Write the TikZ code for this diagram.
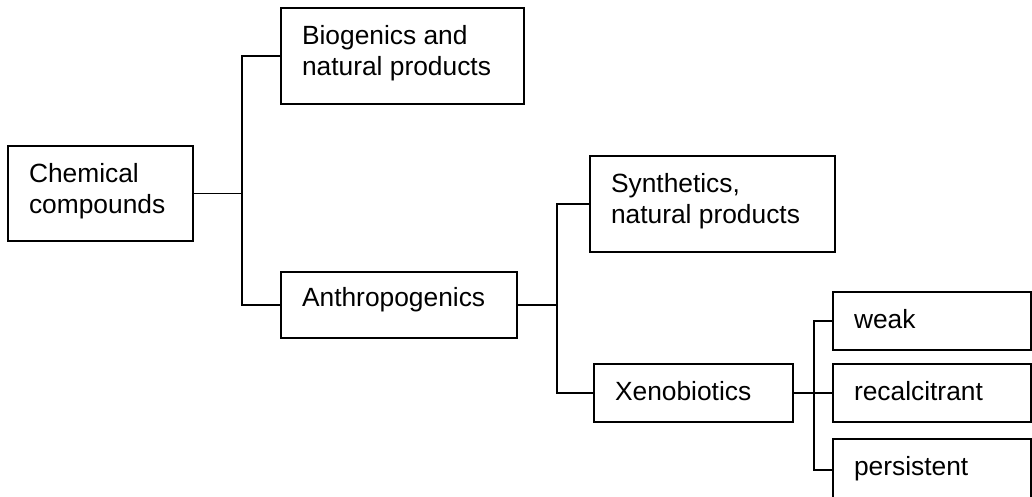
\documentclass[tikz,border=0pt]{standalone}
\usepackage{fontspec}
\setmainfont{Liberation Sans}
\usepackage{tikz}

\begin{document}
\begin{tikzpicture}[x=0.02cm,y=-0.02cm,line width=0.8pt,
  box/.style={draw,rectangle,inner sep=0pt},
  txt/.style={anchor=north west,align=left,inner sep=0pt,xshift=0.42cm,yshift=-0.34cm,font=\fontsize{15}{17.9}\selectfont}]
  \path[use as bounding box,clip] (0,0) rectangle (1032,497);
  \node[box,minimum width=3.7cm,minimum height=1.9cm,label={[txt]north west:{Chemical\\compounds}}] (chem) at (100.5,193.5) {};
  \node[box,minimum width=4.86cm,minimum height=1.92cm,label={[txt]north west:{Biogenics and\\natural products}}] (bio) at (402.5,56) {};
  \node[box,minimum width=4.72cm,minimum height=1.32cm,label={[txt,yshift=0.04cm]north west:Anthropogenics}] (anthro) at (399,305) {};
  \node[box,minimum width=4.9cm,minimum height=1.92cm,label={[txt]north west:{Synthetics,\\natural products}}] (synth) at (712.5,204) {};
  \node[box,minimum width=3.98cm,minimum height=1.16cm,label={[txt]north west:Xenobiotics}] (xeno) at (693.5,393) {};
  \node[box,minimum width=3.96cm,minimum height=1.16cm,label={[txt]north west:weak}] (weak) at (932,321) {};
  \node[box,minimum width=3.96cm,minimum height=1.16cm,label={[txt]north west:recalcitrant}] (recalc) at (932,393) {};
  \node[box,minimum width=3.96cm,minimum height=1.24cm,label={[txt]north west:persistent}] (persist) at (932,470) {};
  \coordinate (j1) at (242,193.5);
  \coordinate (j2) at (557,305);
  \coordinate (j3) at (814,393);
  \draw (chem.east) -- (j1);
  \draw (bio.west) -| (j1) |- (anthro.west);
  \draw (anthro.east) -- (j2);
  \draw (synth.west) -| (j2) |- (xeno.west);
  \draw (xeno.east) -- (j3);
  \draw (weak.west) -| (j3) |- (persist.west);
  \draw (j3) -- (recalc.west);
\end{tikzpicture}
\end{document}
